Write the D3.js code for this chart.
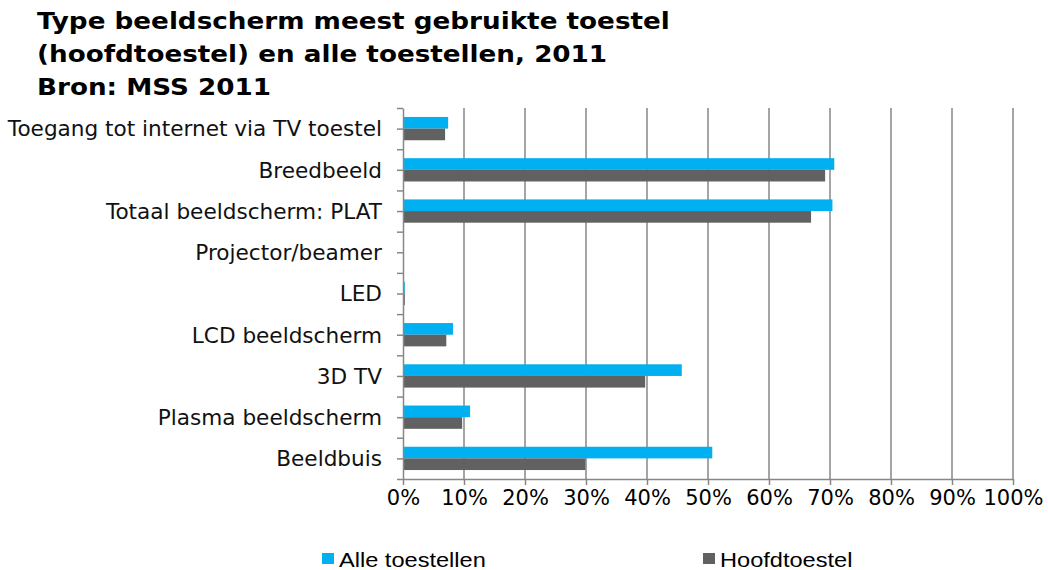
<!DOCTYPE html>
<html>
<head>
<meta charset="utf-8">
<script src="https://cdn.jsdelivr.net/npm/d3@7"></script>
<style>
  body { margin: 0; background: #fff; }
  svg { display: block; }
</style>
</head>
<body>
<svg id="chart" width="1048" height="570"></svg>
<script>
// data (percentages)
const titleLines = [
  'Type beeldscherm meest gebruikte toestel',
  '(hoofdtoestel) en alle toestellen, 2011',
  'Bron: MSS 2011'
];
const categories = [
  'Toegang tot internet via TV toestel',
  'Breedbeeld',
  'Totaal beeldscherm: PLAT',
  'Projector/beamer',
  'LED',
  'LCD beeldscherm',
  '3D TV',
  'Plasma beeldscherm',
  'Beeldbuis'
];
const series = ['Alle toestellen', 'Hoofdtoestel'];
const alleToestellen = [7.4, 70.7, 70.4, 0, 0.3, 8.2, 45.7, 11.0, 50.7];
const hoofdtoestel = [6.9, 69.2, 66.9, 0, 0.3, 7.1, 39.7, 9.7, 29.9];
const xTicks = [0, 10, 20, 30, 40, 50, 60, 70, 80, 90, 100];
const colors = ['#00b0f0', '#616161'];

const margin = { top: 108, left: 403 };
const width = 610, height = 371;
const axisColor = '#878787';

const svg = d3.select('#chart');

// titel, iets breder getrokken zoals in het origineel
const title = svg.append('g')
  .attr('font-family', 'DejaVu Sans, Verdana, sans-serif')
  .attr('font-weight', 'bold')
  .attr('font-size', 23)
  .attr('fill', '#000');
title.selectAll('text')
  .data(titleLines)
  .enter().append('text')
  .attr('x', 37)
  .attr('y', (d, i) => 29 + i * 33)
  .text(d => d)
  .each(function () {
    const w = this.getComputedTextLength();
    d3.select(this).attr('textLength', w * 1.14).attr('lengthAdjust', 'spacingAndGlyphs');
  });

const g = svg.append('g').attr('transform', `translate(${margin.left},${margin.top})`);

const x = d3.scaleLinear().domain([0, 100]).range([0, width]);
const y0 = d3.scaleBand().domain(categories).range([0, height]);
const y1 = d3.scaleBand().domain(series).range([0, y0.bandwidth()]).paddingOuter(0.77);
const yIdx = d3.scaleLinear().domain([0, categories.length]).range([0, height]);

// verticale rasterlijnen
g.append('g')
  .selectAll('line')
  .data(xTicks.filter(v => v > 0))
  .enter().append('line')
  .attr('x1', d => x(d))
  .attr('x2', d => x(d))
  .attr('y1', 0)
  .attr('y2', height)
  .attr('stroke', axisColor)
  .attr('stroke-width', 1.5);

// staven
const rows = categories.map((c, i) => ({ cat: c, vals: [alleToestellen[i], hoofdtoestel[i]] }));
const groups = g.append('g')
  .selectAll('g')
  .data(rows)
  .enter().append('g')
  .attr('transform', d => `translate(0,${y0(d.cat)})`);
groups.selectAll('rect')
  .data(d => d.vals.map((v, j) => ({ s: series[j], v: v, c: colors[j] })))
  .enter().append('rect')
  .attr('x', 0)
  .attr('y', d => y1(d.s))
  .attr('width', d => x(d.v))
  .attr('height', y1.bandwidth())
  .attr('fill', d => d.c);

// x-as
const xAxis = g.append('g')
  .attr('transform', `translate(0,${height})`)
  .call(d3.axisBottom(x)
          .tickValues(xTicks)
          .tickFormat(v => `${v}%`)
          .tickSizeInner(6)
          .tickSizeOuter(0)
          .tickPadding(5));

// y-as: streepjes op elke halve categorie
const yTickAxis = g.append('g')
  .call(d3.axisLeft(yIdx)
          .tickValues(d3.range(0, categories.length + 0.01, 0.5))
          .tickFormat('')
          .tickSizeInner(6)
          .tickSizeOuter(0));

// categorie labels
const yLabels = g.append('g')
  .call(d3.axisLeft(y0).tickSize(0).tickPadding(21));
yLabels.select('.domain').remove();

[xAxis, yTickAxis].forEach(a => {
  a.selectAll('.domain, .tick line')
    .attr('stroke', axisColor)
    .attr('stroke-width', 1.5);
});
xAxis.selectAll('.tick text')
  .attr('fill', '#000')
  .style('font-family', 'DejaVu Sans, Verdana, sans-serif')
  .style('font-size', '21px');
yLabels.selectAll('.tick text')
  .attr('fill', '#111')
  .attr('dy', '0.36em')
  .style('font-family', 'DejaVu Sans, Verdana, sans-serif')
  .style('font-size', '21.6px');

// legenda
const legend = svg.append('g')
  .selectAll('g')
  .data(series)
  .enter().append('g')
  .attr('transform', (d, i) => `translate(${322 + i * 381},553)`);
legend.append('rect')
  .attr('width', 12)
  .attr('height', 11)
  .attr('fill', (d, i) => colors[i]);
legend.append('text')
  .attr('x', 17)
  .attr('y', 14)
  .attr('fill', '#000')
  .style('font-family', 'Liberation Sans, Arial, sans-serif')
  .style('font-size', '20.5px')
  .text(d => d)
  .each(function () {
    const w = this.getComputedTextLength();
    d3.select(this).attr('textLength', w * 1.15).attr('lengthAdjust', 'spacingAndGlyphs');
  });
</script>
</body>
</html>
